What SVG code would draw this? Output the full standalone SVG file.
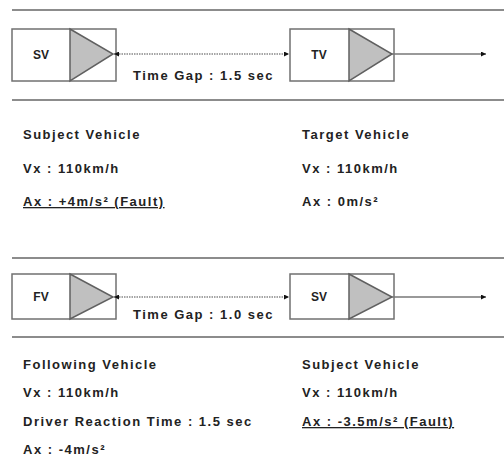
<svg xmlns="http://www.w3.org/2000/svg" width="504" height="460" viewBox="0 0 504 460">
<style>
.rule{stroke:#8c8c8c;stroke-width:2;fill:none}
.box{fill:#fff;stroke:#707070;stroke-width:1.5}
.tri{fill:#c0c0c0;stroke:#606060;stroke-width:1.5}
.lbl{font-family:"Liberation Sans",Arial,sans-serif;font-weight:bold;font-size:12px;fill:#222}
.t{font-family:"Liberation Sans",Arial,sans-serif;font-weight:bold;font-size:13px;letter-spacing:1.5px;fill:#222}
.dot{stroke:#888;stroke-width:1.5;stroke-dasharray:1.5 1;fill:none}
.sol{stroke:#777;stroke-width:1.5;fill:none}
.u{text-decoration:underline}
</style>
<defs>
<marker id="ah" viewBox="0 0 10 10" refX="10" refY="5" markerWidth="5" markerHeight="5" orient="auto-start-reverse" markerUnits="userSpaceOnUse">
<path d="M0,0 L10,5 L0,10 z" fill="#111"/>
</marker>
</defs>
<g id="rules">
<line class="rule" x1="12" y1="10" x2="504" y2="10"/>
<line class="rule" x1="12" y1="100" x2="504" y2="100"/>
<line class="rule" x1="12" y1="258" x2="504" y2="258"/>
<line class="rule" x1="12" y1="337" x2="504" y2="337"/>
</g>
<g id="node-sv1">
<rect class="box" x="12" y="29" width="104" height="52"/>
<polygon class="tri" points="70,29 113,54 70,81"/>
<text class="lbl" x="41" y="59" text-anchor="middle">SV</text>
</g>
<g id="node-tv">
<rect class="box" x="290" y="29" width="104" height="52"/>
<polygon class="tri" points="349,29 392,54 349,81"/>
<text class="lbl" x="319" y="59" text-anchor="middle">TV</text>
</g>
<g id="node-fv">
<rect class="box" x="12" y="274" width="104" height="45"/>
<polygon class="tri" points="70,274 113,297 70,319"/>
<text class="lbl" x="41" y="301" text-anchor="middle">FV</text>
</g>
<g id="node-sv2">
<rect class="box" x="290" y="274" width="104" height="45"/>
<polygon class="tri" points="349,274 392,297 349,319"/>
<text class="lbl" x="319" y="301" text-anchor="middle">SV</text>
</g>
<g id="connectors">
<line class="dot" x1="114" y1="54" x2="289" y2="54" marker-start="url(#ah)" marker-end="url(#ah)"/>
<line class="sol" x1="392" y1="54" x2="486" y2="54" marker-end="url(#ah)"/>
<line class="dot" x1="114" y1="297" x2="289" y2="297" marker-start="url(#ah)" marker-end="url(#ah)"/>
<line class="sol" x1="392" y1="297" x2="486" y2="297" marker-end="url(#ah)"/>
</g>
<g id="labels">
<text class="t" x="133" y="80">Time Gap : 1.5 sec</text>
<text class="t" x="133" y="319">Time Gap : 1.0 sec</text>
<text class="t" x="23" y="139">Subject Vehicle</text>
<text class="t" x="23" y="173">Vx : 110km/h</text>
<text class="t u" x="23" y="206">Ax : +4m/s² (Fault)</text>
<text class="t" x="302" y="139">Target Vehicle</text>
<text class="t" x="302" y="173">Vx : 110km/h</text>
<text class="t" x="302" y="206">Ax : 0m/s²</text>
<text class="t" x="23" y="369">Following Vehicle</text>
<text class="t" x="23" y="397">Vx : 110km/h</text>
<text class="t" x="23" y="426">Driver Reaction Time : 1.5 sec</text>
<text class="t" x="23" y="454">Ax : -4m/s²</text>
<text class="t" x="302" y="369">Subject Vehicle</text>
<text class="t" x="302" y="397">Vx : 110km/h</text>
<text class="t u" x="302" y="426">Ax : -3.5m/s² (Fault)</text>
</g>
</svg>
